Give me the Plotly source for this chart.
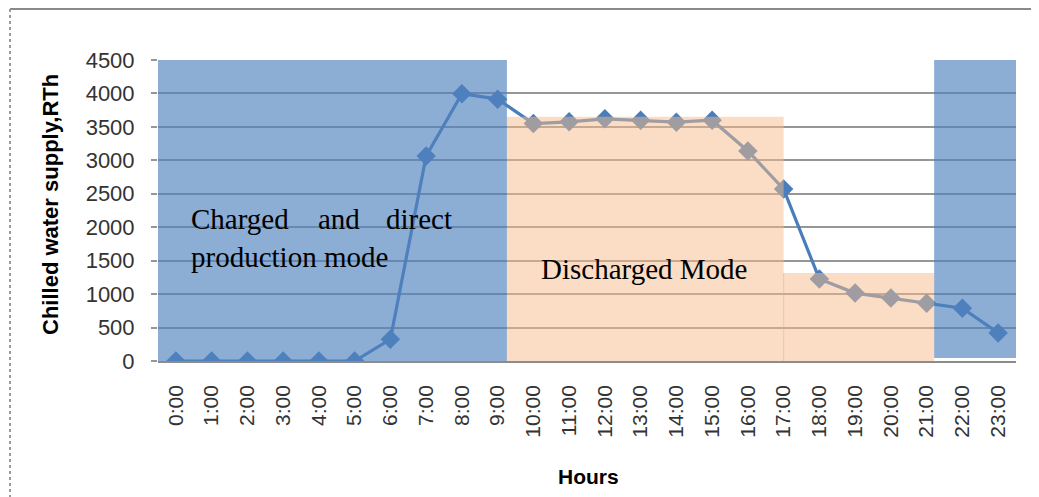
import plotly.graph_objects as go

hours = [f"{h}:00" for h in range(24)]
supply = [0, 0, 0, 0, 0, 0, 325, 3065, 3995, 3915, 3550, 3575, 3620, 3600,
          3570, 3600, 3140, 2570, 1225, 1015, 940, 865, 790, 420]

# operating-mode periods (start/end in hour-index units, height in RTh)
charge_periods = [(-0.5, 9.26, 0, 4500), (21.21, 23.5, 45, 4540)]
discharge_periods = [(9.26, 17.0, 0, 3650), (17.0, 21.21, 0, 1315)]

y_ticks = list(range(0, 4501, 500))

# page body has an 8px margin; plot area target: x 158..1016, y 60..361
OFF = 8
PL, PR, PT, PB = 158, 1016, 60, 361
PW, PH = PR - PL, PB - PT

fig = go.Figure()
fig.add_trace(go.Scatter(
    x=list(range(24)), y=supply, mode="lines+markers",
    line=dict(color="#4A7EBB", width=3.2),
    marker=dict(symbol="diamond", size=15, color="#4A7EBB"),
    showlegend=False, hoverinfo="skip"))

shapes = []
for x0, x1, y0, y1 in charge_periods:
    shapes.append(dict(type="rect", xref="x", yref="y", x0=x0, x1=x1, y0=y0, y1=y1,
                       fillcolor="#4F81BD", opacity=0.65, line=dict(width=0), layer="above"))
for x0, x1, y0, y1 in discharge_periods:
    shapes.append(dict(type="rect", xref="x", yref="y", x0=x0, x1=x1, y0=y0, y1=y1,
                       fillcolor="#F5BB89", opacity=0.5, line=dict(width=0), layer="above"))
# boundary between the two discharge blocks
shapes.append(dict(type="line", xref="x", yref="y", x0=17.0, x1=17.0, y0=0, y1=1315,
                   line=dict(color="rgba(245,170,120,0.5)", width=1), layer="above"))


def px(x):
    return (x - PL) / PW


def py(y):
    return (PB - y) / PH


# outer chart frame
shapes.append(dict(type="line", xref="paper", yref="paper", x0=px(10), x1=px(1038),
                   y0=py(9), y1=py(9), line=dict(color="#8a8a8a", width=2)))
shapes.append(dict(type="line", xref="paper", yref="paper", x0=px(10), x1=px(10),
                   y0=py(9), y1=py(497), line=dict(color="#9a9a9a", width=2, dash="dot")))

serif = "Liberation Serif, Times New Roman, serif"
annotations = [
    dict(text="Charged", x=189, y=219),
    dict(text="and", x=316, y=219),
    dict(text="direct", x=384, y=219),
    dict(text="production mode", x=189, y=257),
    dict(text="Discharged Mode", x=539, y=269),
]
ann = []
for a in annotations:
    ann.append(dict(text=a["text"], xref="paper", yref="paper",
                    x=px(a["x"]), y=py(a["y"]),
                    xanchor="left", yanchor="middle", showarrow=False,
                    font=dict(family=serif, size=29, color="#000000")))
ann.append(dict(text="<b>Hours</b>", xref="paper", yref="paper", x=px(588), y=py(476),
                xanchor="center", yanchor="middle", showarrow=False,
                font=dict(family="Liberation Sans, Arial", size=21, color="#000000")))
ann.append(dict(text="<b>Chilled water supply,RTh</b>", xref="paper", yref="paper",
                x=px(50), y=py(204), textangle=-90,
                xanchor="center", yanchor="middle", showarrow=False,
                font=dict(family="Liberation Sans, Arial", size=22, color="#000000")))

W, H = 1039 - OFF, 497 - OFF
fig.update_layout(
    width=W, height=H,
    margin=dict(l=PL - OFF, r=W + OFF - PR, t=PT - OFF, b=H + OFF - PB, pad=0),
    paper_bgcolor="white", plot_bgcolor="white",
    shapes=shapes, annotations=ann,
    xaxis=dict(range=[-0.5, 23.5], tickmode="array", tickvals=list(range(24)),
               ticktext=hours, tickangle=-90, showgrid=False, showline=True,
               linecolor="#8c8c8c", linewidth=1.5, ticks="", ticklabelstandoff=14,
               tickfont=dict(family="Liberation Sans, Arial", size=21, color="#333333"),
               zeroline=False, fixedrange=True),
    yaxis=dict(range=[0, 4500], tickvals=y_ticks, showgrid=True, gridcolor="#969696",
               gridwidth=1.5, ticks="outside", ticklen=6, tickcolor="#969696",
               tickwidth=1.5, showline=False, zeroline=False, ticklabelstandoff=12,
               tickfont=dict(family="Liberation Sans, Arial", size=22, color="#333333"),
               fixedrange=True),
)

fig.write_html("out.html", config={"displayModeBar": False})
